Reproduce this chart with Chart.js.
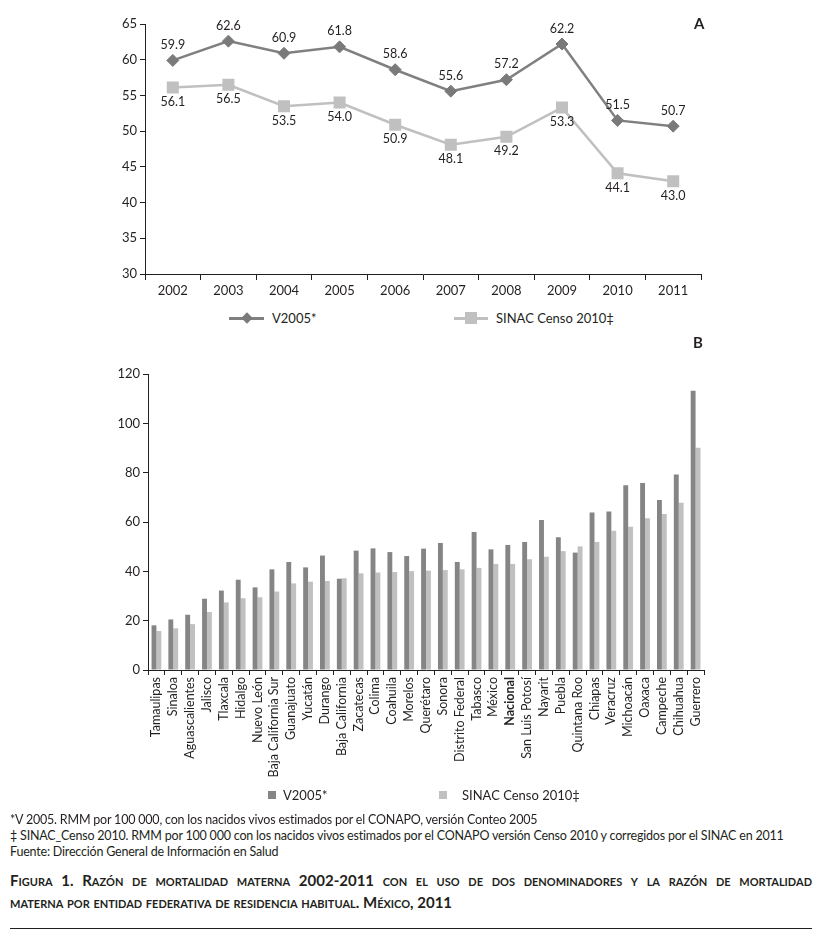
<!DOCTYPE html>
<html lang="es">
<head>
<meta charset="utf-8">
<script src="https://cdn.jsdelivr.net/npm/chart.js@4.4.1/dist/chart.umd.min.js"></script>
<style>
  body { margin: 0; background: #fff; font-family: Lato, "Open Sans", sans-serif; color: #231f20; }
  #pagina { position: relative; width: 823px; height: 942px; overflow: hidden; }
  canvas { position: absolute; left: 0; }
  .abs { position: absolute; white-space: nowrap; }
  .letra { font-weight: bold; font-size: 15px; }
  .leyenda { font-size: 13px; line-height: 14px; }
  .nota { left: 10px; font-size: 12.5px; letter-spacing: -0.2px; line-height: 14px; }
  .titulo { position: absolute; left: 10px; width: 802px; font-weight: bold; font-size: 15px;
            font-variant: small-caps; line-height: 20px; white-space: nowrap; }
  #titulo1 { top: 870px; text-align: justify; text-align-last: justify; }
  #titulo2 { top: 892px; }
  #regla { position: absolute; left: 10px; top: 928px; width: 802px; height: 1px; background: #231f20; }
</style>
</head>
<body>
<div id="pagina">
  <canvas id="graficoA" width="823" height="300" style="top:0"></canvas>
  <canvas id="graficoB" width="823" height="470" style="top:335px"></canvas>

  <div class="abs letra" style="left:694px;top:14px">A</div>
  <div class="abs letra" style="left:693px;top:333px">B</div>

  <!-- leyenda A -->
  <div class="abs" style="left:229px;top:317px;width:35px;height:2.5px;background:#808080"></div>
  <div class="abs" style="left:243px;top:314px;width:8px;height:8px;background:#7a7a7a;transform:rotate(45deg)"></div>
  <div class="abs leyenda" style="left:272px;top:311px">V2005*</div>
  <div class="abs" style="left:454px;top:317px;width:34px;height:2.5px;background:#c0c0c0"></div>
  <div class="abs" style="left:465px;top:312px;width:12px;height:12px;background:#c0c0c0"></div>
  <div class="abs leyenda" style="left:496px;top:311px">SINAC Censo 2010‡</div>

  <!-- leyenda B -->
  <div class="abs" style="left:268px;top:791px;width:8px;height:8px;background:#858585"></div>
  <div class="abs leyenda" style="left:283px;top:788px">V2005*</div>
  <div class="abs" style="left:439px;top:791px;width:8px;height:8px;background:#c0c0c0"></div>
  <div class="abs leyenda" style="left:462px;top:788px">SINAC Censo 2010‡</div>

  <div class="abs nota" style="top:813px">*V 2005. RMM por 100 000, con los nacidos vivos estimados por el CONAPO, versión Conteo 2005</div>
  <div class="abs nota" style="top:829px">‡ SINAC_Censo 2010. RMM por 100 000 con los nacidos vivos estimados por el CONAPO versión Censo 2010 y corregidos por el SINAC en 2011</div>
  <div class="abs nota" style="top:845px">Fuente: Dirección General de Información en Salud</div>

  <div class="titulo" id="titulo1">Figura 1. Razón de mortalidad materna 2002-2011 con el uso de dos denominadores y la razón de mortalidad</div>
  <div class="titulo" id="titulo2">materna por entidad federativa de residencia habitual. México, 2011</div>
  <div id="regla"></div>
</div>

<script>
// Panel A: serie anual
const anios = ["2002", "2003", "2004", "2005", "2006", "2007", "2008", "2009", "2010", "2011"];
const v2005Anual = [59.9, 62.6, 60.9, 61.8, 58.6, 55.6, 57.2, 62.2, 51.5, 50.7];
const sinacAnual = [56.1, 56.5, 53.5, 54.0, 50.9, 48.1, 49.2, 53.3, 44.1, 43.0];
const ticksA = [30, 35, 40, 45, 50, 55, 60, 65];

// Panel B: por entidad federativa
const entidades = ["Tamaulipas", "Sinaloa", "Aguascalientes", "Jalisco", "Tlaxcala", "Hidalgo",
  "Nuevo León", "Baja California Sur", "Guanajuato", "Yucatán", "Durango", "Baja California",
  "Zacatecas", "Colima", "Coahuila", "Morelos", "Querétaro", "Sonora", "Distrito Federal",
  "Tabasco", "México", "Nacional", "San Luis Potosí", "Nayarit", "Puebla", "Quintana Roo",
  "Chiapas", "Veracruz", "Michoacán", "Oaxaca", "Campeche", "Chihuahua", "Guerrero"];
const v2005Entidad = [18.1, 20.5, 22.4, 28.9, 32.2, 36.6, 33.5, 40.8, 43.8, 41.6, 46.4, 37.0,
  48.4, 49.3, 47.8, 46.2, 49.2, 51.5, 43.8, 55.9, 48.9, 50.7, 51.9, 60.8, 53.8, 47.6,
  63.9, 64.3, 74.9, 75.8, 68.9, 79.3, 113.2];
const sinacEntidad = [15.8, 16.9, 18.6, 23.5, 27.4, 29.1, 29.5, 31.8, 35.1, 35.8, 36.1, 37.2,
  39.2, 39.5, 39.7, 40.1, 40.3, 40.5, 40.8, 41.4, 43.0, 43.0, 44.9, 45.9, 48.2, 50.1,
  51.9, 56.5, 58.1, 61.5, 63.2, 67.8, 90.1];
const ticksB = [0, 20, 40, 60, 80, 100, 120];

const fuente = "Lato, 'Open Sans', sans-serif";
const tinta = "#231f20";

function ejeBase(extra) {
  return Object.assign({
    grid: { display: true, drawOnChartArea: false, color: tinta, tickLength: 5 },
    border: { display: true, color: tinta, width: 1 },
    ticks: { color: tinta, font: { family: fuente, size: 13 } }
  }, extra);
}

const etiquetasValores = {
  id: "etiquetasValores",
  afterDatasetsDraw(chart) {
    const ctx = chart.ctx;
    ctx.save();
    ctx.font = "12.5px " + fuente;
    ctx.fillStyle = tinta;
    ctx.textAlign = "center";
    ctx.textBaseline = "middle";
    chart.data.datasets.forEach((ds, i) => {
      chart.getDatasetMeta(i).data.forEach((pt, j) => {
        const dy = i === 0 ? -15.5 : 14.5;
        ctx.fillText(ds.data[j].toFixed(1), pt.x, pt.y + dy);
      });
    });
    ctx.restore();
  }
};

new Chart(document.getElementById("graficoA"), {
  type: "line",
  data: {
    labels: anios,
    datasets: [
      {
        label: "V2005*",
        data: v2005Anual,
        borderColor: "#808080",
        borderWidth: 2.5,
        pointStyle: "rectRot",
        pointRadius: 6,
        pointBackgroundColor: "#7a7a7a",
        pointBorderColor: "#7a7a7a",
        pointBorderWidth: 1
      },
      {
        label: "SINAC Censo 2010‡",
        data: sinacAnual,
        borderColor: "#c0c0c0",
        borderWidth: 2.5,
        pointStyle: "rect",
        pointRadius: 8.5,
        pointBackgroundColor: "#c0c0c0",
        pointBorderColor: "#c0c0c0",
        pointBorderWidth: 0
      }
    ]
  },
  options: {
    responsive: false,
    animation: false,
    layout: { padding: { left: 105, right: 122, top: 24, bottom: 0 } },
    plugins: { legend: { display: false }, tooltip: { enabled: false } },
    scales: {
      x: ejeBase({
        offset: true,
        grid: { display: true, drawOnChartArea: false, offset: true, color: tinta, tickLength: 6 },
        afterFit: (s) => { s.height = 26; }
      }),
      y: ejeBase({
        min: 30, max: 65,
        afterBuildTicks: (s) => { s.ticks = ticksA.map((v) => ({ value: v })); },
        afterFit: (s) => { s.width = 40; }
      })
    }
  },
  plugins: [etiquetasValores]
});

new Chart(document.getElementById("graficoB"), {
  type: "bar",
  data: {
    labels: entidades,
    datasets: [
      { label: "V2005*", data: v2005Entidad, backgroundColor: "#858585", borderWidth: 0 },
      { label: "SINAC Censo 2010‡", data: sinacEntidad, backgroundColor: "#c0c0c0", borderWidth: 0 }
    ]
  },
  options: {
    responsive: false,
    animation: false,
    datasets: { bar: { categoryPercentage: 0.58, barPercentage: 1.0 } },
    layout: { padding: { left: 108, right: 119, top: 39, bottom: 0 } },
    plugins: { legend: { display: false }, tooltip: { enabled: false } },
    scales: {
      x: ejeBase({
        grid: { display: true, drawOnChartArea: false, offset: true, color: tinta, tickLength: 5 },
        ticks: {
          color: tinta,
          autoSkip: false,
          minRotation: 90,
          maxRotation: 90,
          padding: 2,
          font: (c) => ({
            family: fuente,
            size: 12.5,
            weight: entidades[c.index] === "Nacional" ? "bold" : "normal"
          })
        },
        afterFit: (s) => { s.height = 135; }
      }),
      y: ejeBase({
        min: 0, max: 120,
        afterBuildTicks: (s) => { s.ticks = ticksB.map((v) => ({ value: v })); },
        afterFit: (s) => { s.width = 40; }
      })
    }
  }
});
</script>
</body>
</html>
